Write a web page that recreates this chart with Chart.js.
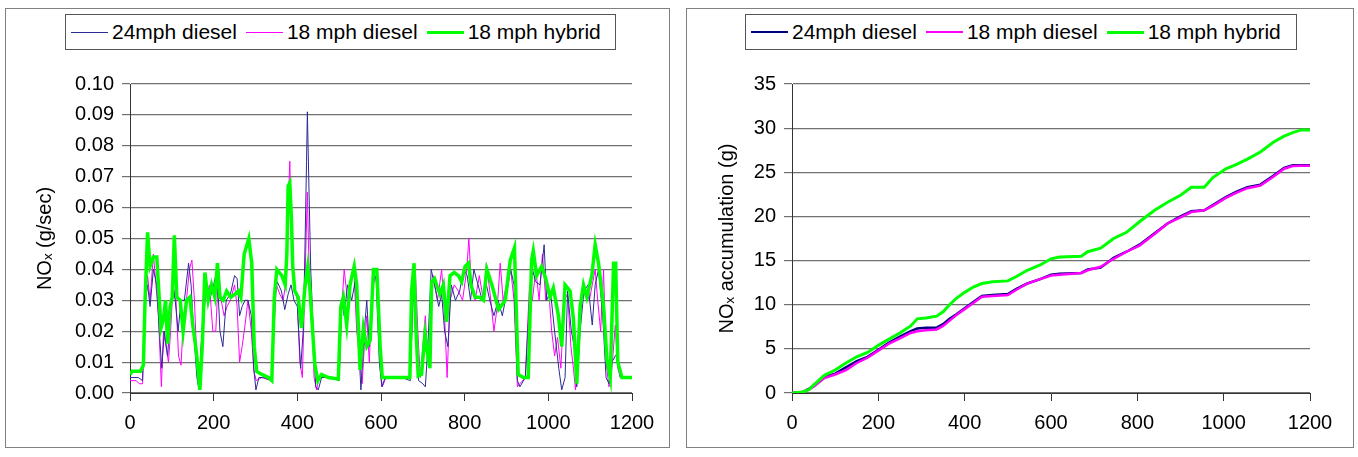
<!DOCTYPE html>
<html>
<head>
<meta charset="utf-8">
<script src="https://cdn.jsdelivr.net/npm/chart.js@4.4.0/dist/chart.umd.min.js"></script>
<style>
  html, body { margin: 0; padding: 0; background: #fff; }
  body { width: 1358px; height: 457px; position: relative; overflow: hidden; font-family: 'Liberation Sans', Arial, sans-serif; }
  .panel { position: absolute; top: 8px; height: 440px; border: 1px solid #808080; box-sizing: border-box; }
  .panel canvas { position: absolute; left: 0; top: 0; }
  .legend { position: absolute; top: 5px; height: 36px; border: 1px solid #555; box-sizing: border-box;
            display: flex; align-items: center; padding-left: 5px; font-size: 21px; color: #000; white-space: nowrap; background: #fff; z-index: 2; }
  .legend .sw { display: inline-block; width: 37px; margin-right: 4px; }
  .legend .item { display: inline-flex; align-items: center; margin-right: 9px; }
</style>
</head>
<body>
<div class="panel" id="p-left" style="left:5px; width:665px;">
  <div class="legend" id="lg-left" style="left:59px; width:551px;"></div>
  <canvas id="chart-rate"></canvas>
</div>
<div class="panel" id="p-right" style="left:686px; width:668px;">
  <div class="legend" id="lg-right" style="left:58px; width:552px;"></div>
  <canvas id="chart-accum"></canvas>
</div>
<script>
/* NOx emission rate (g/sec) vs time (s) */
const SERIES_NAMES = ['24mph diesel', '18 mph diesel', '18 mph hybrid'];
const RATE_TICKS = { min: 0, max: 0.1, step: 0.01 };
const ACCUM_TICKS = { min: 0, max: 35, step: 5 };
const TIME_TICKS = { min: 0, max: 1200, step: 200 };

const diesel24T = [0,20,30,35,42,48,56,64,70,76,82,90,96,102,108,115,122,130,140,146,152,160,165,172,180,190,200,208,215,222,230,240,250,256,262,268,275,282,290,296,301,308,320,338,345,352,362,370,378,385,392,400,408,414,418,422,424,428,432,438,444,450,458,480,500,506,512,520,530,538,545,552,560,566,572,580,588,596,602,610,650,670,676,682,690,700,706,712,720,728,738,745,752,760,768,778,788,798,806,814,822,832,842,852,860,870,880,890,900,910,918,926,932,945,955,962,970,980,990,996,1005,1015,1025,1032,1040,1046,1055,1062,1068,1076,1085,1095,1105,1112,1120,1130,1138,1145,1152,1160,1166,1172,1200];
const diesel24Nox = [0.005,0.005,0.004,0.028,0.035,0.028,0.040,0.035,0.020,0.008,0.020,0.012,0.025,0.035,0.030,0.020,0.030,0.030,0.042,0.035,0.020,0.005,0.001,0.020,0.033,0.030,0.035,0.040,0.020,0.015,0.030,0.032,0.038,0.037,0.025,0.028,0.030,0.030,0.025,0.008,0.001,0.005,0.005,0.004,0.030,0.036,0.033,0.027,0.032,0.035,0.030,0.028,0.008,0.020,0.045,0.075,0.091,0.065,0.040,0.020,0.002,0.001,0.005,0.005,0.004,0.030,0.025,0.035,0.030,0.036,0.020,0.001,0.020,0.030,0.015,0.035,0.038,0.010,0.002,0.005,0.005,0.004,0.030,0.030,0.004,0.003,0.002,0.015,0.040,0.035,0.028,0.032,0.020,0.015,0.035,0.030,0.033,0.040,0.038,0.030,0.040,0.035,0.030,0.035,0.030,0.025,0.030,0.025,0.032,0.040,0.035,0.004,0.002,0.005,0.030,0.040,0.036,0.035,0.048,0.030,0.033,0.020,0.008,0.001,0.005,0.033,0.020,0.015,0.002,0.020,0.033,0.035,0.022,0.035,0.040,0.025,0.005,0.003,0.010,0.012,0.013,0.005,0.005];

const diesel18T = [0,15,22,30,35,42,48,56,62,68,72,75,80,86,92,97,103,110,116,122,128,135,142,148,154,160,165,172,180,190,198,205,212,218,225,232,240,250,256,262,268,275,282,290,296,302,315,338,344,350,358,366,372,378,382,386,392,400,406,412,418,424,428,434,440,446,452,480,500,505,512,520,528,535,542,548,555,560,566,572,578,585,592,598,603,612,670,675,682,688,694,700,706,712,718,725,735,745,752,758,765,775,785,795,805,810,816,825,835,845,852,860,870,878,885,892,900,910,918,926,932,945,955,962,970,978,986,994,1000,1008,1015,1022,1030,1038,1046,1054,1060,1065,1072,1080,1090,1098,1105,1112,1118,1125,1132,1138,1145,1152,1160,1166,1172,1200];
const diesel18Nox = [0.004,0.004,0.003,0.003,0.025,0.038,0.030,0.045,0.035,0.025,0.012,0.002,0.020,0.015,0.010,0.020,0.035,0.030,0.012,0.009,0.025,0.030,0.040,0.043,0.030,0.010,0.001,0.020,0.030,0.035,0.020,0.020,0.040,0.030,0.025,0.028,0.030,0.035,0.028,0.010,0.015,0.022,0.030,0.020,0.007,0.004,0.005,0.004,0.020,0.035,0.032,0.030,0.035,0.060,0.075,0.050,0.035,0.030,0.010,0.005,0.035,0.065,0.040,0.030,0.005,0.001,0.005,0.005,0.005,0.025,0.040,0.030,0.035,0.040,0.020,0.012,0.003,0.015,0.025,0.010,0.030,0.038,0.035,0.008,0.002,0.005,0.005,0.025,0.040,0.020,0.005,0.015,0.025,0.010,0.020,0.038,0.030,0.040,0.025,0.005,0.030,0.035,0.033,0.030,0.040,0.050,0.035,0.030,0.038,0.030,0.042,0.033,0.020,0.028,0.042,0.030,0.035,0.040,0.030,0.002,0.003,0.005,0.035,0.030,0.040,0.030,0.045,0.030,0.035,0.020,0.012,0.018,0.008,0.030,0.032,0.015,0.008,0.001,0.015,0.030,0.033,0.030,0.035,0.040,0.030,0.020,0.040,0.010,0.002,0.008,0.022,0.008,0.005,0.005];

const hybridT = [0,5,25,32,36,42,48,56,64,68,74,80,85,90,96,101,106,112,120,127,135,143,151,159,167,173,179,187,195,203,209,215,223,231,241,251,259,265,273,284,291,297,303,315,331,339,345,351,363,371,375,378,382,386,389,394,402,410,418,425,430,438,442,449,458,474,498,504,510,518,526,536,542,550,558,566,574,582,590,598,603,618,634,650,669,673,679,683,689,697,705,712,717,721,728,733,741,749,757,765,775,785,793,801,809,815,825,835,845,853,865,881,897,909,919,928,940,952,960,964,972,984,994,1004,1012,1024,1032,1040,1052,1060,1068,1076,1084,1092,1104,1112,1120,1132,1140,1148,1156,1161,1166,1176,1200];
const hybridNox = [0.006,0.007,0.007,0.009,0.030,0.052,0.041,0.044,0.044,0.035,0.021,0.024,0.030,0.016,0.028,0.031,0.051,0.031,0.030,0.020,0.030,0.031,0.021,0.013,0.001,0.016,0.039,0.030,0.035,0.031,0.042,0.031,0.030,0.033,0.031,0.032,0.033,0.031,0.045,0.050,0.042,0.015,0.007,0.006,0.005,0.004,0.031,0.040,0.038,0.035,0.045,0.067,0.068,0.056,0.041,0.033,0.031,0.021,0.034,0.041,0.034,0.017,0.009,0.004,0.006,0.005,0.0045,0.028,0.031,0.022,0.035,0.041,0.035,0.0075,0.021,0.015,0.017,0.040,0.040,0.015,0.005,0.005,0.005,0.005,0.005,0.033,0.042,0.022,0.0055,0.006,0.019,0.012,0.008,0.036,0.037,0.035,0.032,0.035,0.023,0.038,0.039,0.038,0.036,0.041,0.042,0.035,0.031,0.031,0.030,0.040,0.035,0.027,0.030,0.043,0.047,0.006,0.005,0.005,0.043,0.046,0.038,0.041,0.037,0.031,0.034,0.025,0.015,0.035,0.033,0.024,0.003,0.028,0.035,0.031,0.038,0.048,0.042,0.028,0.011,0.005,0.042,0.042,0.010,0.005,0.005];

/* cumulative NOx (g) */
const accumT = [0,25,40,50,75,100,125,150,175,200,225,250,275,290,310,335,350,365,380,400,420,440,465,500,520,545,575,600,620,670,685,715,745,775,805,840,870,900,925,955,975,1005,1030,1055,1085,1115,1140,1160,1180,1200];
const accumDiesel24 = [0,0.1,0.5,0.8,1.8,2.2,2.9,3.6,4.1,4.9,5.7,6.4,7.0,7.3,7.4,7.4,7.8,8.4,8.9,9.6,10.3,11.0,11.1,11.2,11.8,12.4,12.9,13.4,13.5,13.6,14.0,14.2,15.3,16.0,16.8,18.1,19.2,20.0,20.6,20.7,21.3,22.2,22.8,23.3,23.6,24.6,25.5,25.8,25.8,25.8];
const accumDiesel18 = [0,0.1,0.4,0.7,1.7,2.1,2.6,3.4,4.0,4.8,5.6,6.2,6.8,7.0,7.1,7.2,7.6,8.2,8.8,9.5,10.2,10.9,11.0,11.1,11.7,12.4,12.9,13.3,13.4,13.6,13.9,14.3,15.2,16.0,16.7,18.0,19.2,19.9,20.5,20.7,21.2,22.1,22.7,23.2,23.5,24.5,25.4,25.7,25.75,25.75];
const accumHybrid = [0,0.1,0.4,0.9,2.0,2.6,3.4,4.1,4.6,5.4,6.1,6.8,7.6,8.4,8.5,8.7,9.2,10.0,10.7,11.4,12.0,12.4,12.6,12.7,13.2,13.9,14.5,15.2,15.4,15.5,16.0,16.4,17.5,18.2,19.4,20.7,21.6,22.4,23.3,23.3,24.4,25.4,25.9,26.5,27.3,28.4,29.1,29.5,29.8,29.8];

const FONT = "'Liberation Sans', Arial, sans-serif";
const pts = (xs, ys) => xs.map((x, i) => ({ x, y: ys[i] }));

function buildLegend(id, styles) {
  const el = document.getElementById(id);
  el.innerHTML = SERIES_NAMES.map((name, i) =>
    `<span class="item"><span class="sw" style="border-top:${styles[i].w}px solid ${styles[i].c}"></span>${name}</span>`
  ).join('');
}

function axes(yTicks, yTitle, yWidth, titlePad, fmt) {
  return {
    x: {
      type: 'linear', min: TIME_TICKS.min, max: TIME_TICKS.max,
      grid: { display: true, drawOnChartArea: false, drawTicks: true, tickLength: 8, color: '#333', lineWidth: 1 },
      border: { display: true, color: '#333', width: 1 },
      ticks: { stepSize: TIME_TICKS.step, color: '#000', padding: 10, maxRotation: 0, font: { family: FONT, size: 20 },
               callback: v => String(v) },
      afterFit: s => { s.height = 54; }
    },
    y: {
      min: yTicks.min, max: yTicks.max,
      grid: { color: '#707070', lineWidth: 1.2, tickLength: 8, drawTicks: true },
      border: { display: true, color: '#333', width: 1 },
      ticks: { stepSize: yTicks.step, color: '#000', padding: 8, font: { family: FONT, size: 20 }, callback: fmt },
      title: { display: true, text: yTitle, color: '#000', font: { family: FONT, size: 20 }, padding: { top: titlePad, bottom: 0 } },
      afterFit: s => { s.width = yWidth; }
    }
  };
}

function makeChart(canvasId, datasets, scales, padRight) {
  return new Chart(document.getElementById(canvasId), {
    type: 'line',
    data: { datasets },
    options: {
      responsive: true, maintainAspectRatio: false, animation: false,
      layout: { padding: { top: 75, right: padRight, left: 0, bottom: 0 } },
      elements: { point: { radius: 0 }, line: { tension: 0 } },
      plugins: { legend: { display: false }, tooltip: { enabled: false } },
      scales
    }
  });
}

const LEFT_STYLE = [{ c: '#2b2b96', w: 1 }, { c: '#ff00ff', w: 1 }, { c: '#00ff00', w: 3 }];
const RIGHT_STYLE = [{ c: '#000080', w: 2 }, { c: '#ff00ff', w: 2 }, { c: '#00ff00', w: 3 }];
buildLegend('lg-left', LEFT_STYLE);
buildLegend('lg-right', RIGHT_STYLE);

makeChart('chart-rate', [
  { label: SERIES_NAMES[0], data: pts(diesel24T, diesel24Nox), borderColor: LEFT_STYLE[0].c, borderWidth: 1, order: 1 },
  { label: SERIES_NAMES[1], data: pts(diesel18T, diesel18Nox), borderColor: LEFT_STYLE[1].c, borderWidth: 1, order: 2 },
  { label: SERIES_NAMES[2], data: pts(hybridT, hybridNox), borderColor: LEFT_STYLE[2].c, borderWidth: 3.5, order: 0 }
], axes(RATE_TICKS, 'NO\u2093 (g/sec)', 124, 27, v => v.toFixed(2)), 37);

makeChart('chart-accum', [
  { label: SERIES_NAMES[0], data: pts(accumT, accumDiesel24), borderColor: RIGHT_STYLE[0].c, borderWidth: 2.5, order: 2 },
  { label: SERIES_NAMES[1], data: pts(accumT, accumDiesel18), borderColor: RIGHT_STYLE[1].c, borderWidth: 2.5, order: 1 },
  { label: SERIES_NAMES[2], data: pts(accumT, accumHybrid), borderColor: RIGHT_STYLE[2].c, borderWidth: 3, order: 0 }
], axes(ACCUM_TICKS, 'NO\u2093 accumulation (g)', 105, 28, v => v), 43);
</script>
</body>
</html>
